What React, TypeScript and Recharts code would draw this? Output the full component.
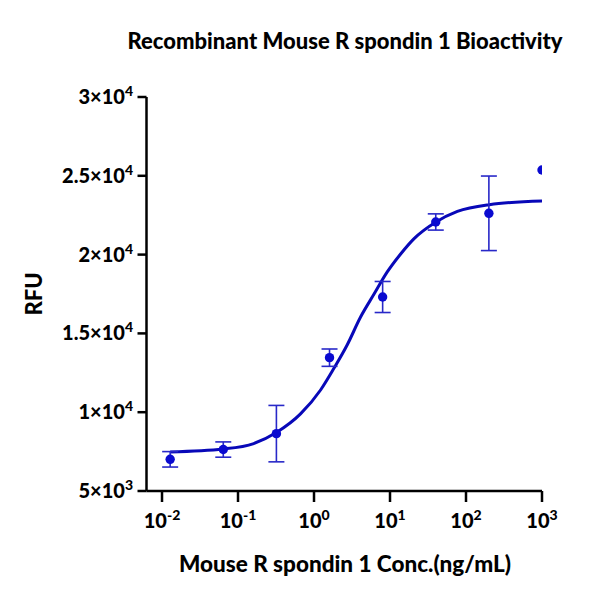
import React from 'react';
import { ComposedChart, XAxis, YAxis, Scatter, Line, ErrorBar } from 'recharts';

// Measured data (5-fold dilution series)
const concentrations = [0.0128, 0.064, 0.32, 1.6, 8, 40, 200, 1000];
const rfuMeans = [7010, 7630, 8640, 13460, 17310, 22070, 22620, 25370];
const rfuErrors = [490, 485, 1790, 550, 985, 515, 2365, 0];

// Fitted curve
const curveX = [0.0128, 0.064, 0.161, 0.32, 0.664, 1.22, 1.82, 2.74, 4.1, 6.14, 9.2, 13.8, 20.6, 40.3, 77, 203, 1000];
const curveY = [7480, 7665, 8010, 8710, 9890, 11410, 12770, 14280, 16040, 17480, 18900, 20040, 21000, 22070, 22740, 23170, 23400];

const xTicks = [0.01, 0.1, 1, 10, 100, 1000];
const xTickExponents = ['-2', '-1', '0', '1', '2', '3'];
const yTicks = [5000, 10000, 15000, 20000, 25000, 30000];
const yTickMantissas = ['5', '1', '1.5', '2', '2.5', '3'];
const yTickExponents = ['3', '4', '4', '4', '4', '4'];

const title = 'Recombinant Mouse R spondin 1 Bioactivity';
const xTitle = 'Mouse R spondin 1 Conc.(ng/mL)';
const yTitle = 'RFU';

const points = concentrations.map((x, i) => ({ x, y: rfuMeans[i], err: rfuErrors[i] }));
const curve = curveX.map((x, i) => ({ x, y: curveY[i] }));

const FONT = 'Lato, "Noto Sans", sans-serif';

const XTick = (props: any) => {
  const { x, y, payload } = props;
  const idx = xTicks.indexOf(payload.value);
  return (
    <text x={x} y={y + 20} textAnchor="middle" fontFamily={FONT} fontWeight={900} fontSize={20} fill="#000">
      <tspan>10</tspan>
      <tspan dy={-8} fontSize={14}>{xTickExponents[idx]}</tspan>
    </text>
  );
};

const YTick = (props: any) => {
  const { payload, index } = props;
  const y = props.y;
  const idx = yTicks.indexOf(payload.value);
  return (
    <text x={133} y={y + 7} textAnchor="end" fontFamily={FONT} fontWeight={900} fontSize={20} fill="#000" data-i={index}>
      <tspan>{yTickMantissas[idx]}×10</tspan>
      <tspan dy={-8} fontSize={14}>{yTickExponents[idx]}</tspan>
    </text>
  );
};

const Dot = (props: any) => {
  const { cx, cy } = props;
  return <circle cx={cx} cy={cy} r={4.7} fill="#0a0ad0" />;
};

export default function App() {
  return (
    <div style={{ position: 'absolute', left: 0, top: 0, width: 600, height: 600, background: '#fff' }}>
      <ComposedChart
        width={600}
        height={600}
        margin={{ top: 97, right: 58, bottom: 49, left: 46.5 }}
      >
        <XAxis
          dataKey="x"
          type="number"
          scale="log"
          domain={[0.00625, 1000]}
          ticks={xTicks}
          allowDataOverflow
          height={60}
          tick={<XTick />}
          tickSize={11}
          tickMargin={6}
          axisLine={{ stroke: '#000', strokeWidth: 2.5 }}
          tickLine={{ stroke: '#000', strokeWidth: 2.5 }}
        />
        <YAxis
          dataKey="y"
          type="number"
          domain={[5000, 30000]}
          ticks={yTicks}
          width={100}
          tick={<YTick />}
          tickSize={9}
          tickMargin={8}
          axisLine={{ stroke: '#000', strokeWidth: 2.5 }}
          tickLine={{ stroke: '#000', strokeWidth: 2.5 }}
        />
        <Line
          data={curve}
          dataKey="y"
          type="monotone"
          stroke="#0808b8"
          strokeWidth={3}
          dot={false}
          activeDot={false}
          isAnimationActive={false}
        />
        <Scatter data={points} dataKey="y" shape={<Dot />} isAnimationActive={false}>
          <ErrorBar dataKey="err" direction="y" width={8} stroke="#2828c8" strokeWidth={1.6} isAnimationActive={false} />
        </Scatter>
      </ComposedChart>
      <div style={{ position: 'absolute', left: 0, width: 690, top: 27, textAlign: 'center', fontFamily: FONT, fontWeight: 900, fontSize: 22, lineHeight: '28px', color: '#000' }}>
        {title}
      </div>
      <div style={{ position: 'absolute', left: 0, width: 690, top: 550, textAlign: 'center', fontFamily: FONT, fontWeight: 900, fontSize: 22.5, lineHeight: '28px', color: '#000' }}>
        {xTitle}
      </div>
      <div style={{ position: 'absolute', left: 34, top: 294, width: 0, height: 0 }}>
        <div style={{ position: 'absolute', left: -40, top: -14, width: 80, textAlign: 'center', transform: 'rotate(-90deg)', fontFamily: FONT, fontWeight: 900, fontSize: 22, lineHeight: '28px', color: '#000' }}>
          {yTitle}
        </div>
      </div>
    </div>
  );
}
